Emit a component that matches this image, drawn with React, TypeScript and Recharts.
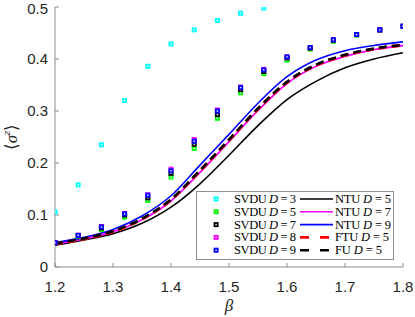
import React from "react";
import {
  ComposedChart,
  Line,
  Scatter,
  XAxis,
  YAxis,
} from "recharts";

// SVDU points, beta step 0.04
const betaSvdu = [1.2, 1.24, 1.28, 1.32, 1.36, 1.4, 1.44, 1.48, 1.52, 1.56, 1.6, 1.64, 1.68, 1.72, 1.76, 1.8];
const svduD3 = [0.106, 0.158, 0.235, 0.32, 0.386, 0.429, 0.456, 0.474, 0.488, 0.498];
const svduD5 = [0.047, 0.059, 0.072, 0.096, 0.128, 0.173, 0.228, 0.286, 0.335, 0.372, 0.398, 0.419, 0.434, 0.446, 0.455, 0.462];
const svduD7 = [0.047, 0.06, 0.075, 0.1, 0.133, 0.18, 0.236, 0.293, 0.341, 0.376, 0.402, 0.421, 0.436, 0.447, 0.456, 0.463];
const svduD8 = [0.047, 0.061, 0.078, 0.103, 0.139, 0.188, 0.245, 0.302, 0.346, 0.38, 0.404, 0.422, 0.437, 0.447, 0.456, 0.463];
const svduD9 = [0.047, 0.061, 0.077, 0.102, 0.138, 0.185, 0.242, 0.3, 0.345, 0.379, 0.404, 0.422, 0.437, 0.447, 0.456, 0.463];

// curves, beta step 0.05
const betaCurve = [1.2, 1.25, 1.3, 1.35, 1.4, 1.45, 1.5, 1.55, 1.6, 1.65, 1.7, 1.75, 1.8];
const ntuD5 = [0.042, 0.052, 0.064, 0.084, 0.115, 0.16, 0.215, 0.272, 0.322, 0.357, 0.383, 0.4, 0.412];
const ntuD7 = [0.044, 0.054, 0.068, 0.091, 0.127, 0.182, 0.241, 0.301, 0.353, 0.386, 0.405, 0.418, 0.426];
const ntuD9 = [0.047, 0.057, 0.072, 0.098, 0.137, 0.196, 0.255, 0.315, 0.366, 0.398, 0.416, 0.426, 0.433];
const ftuD5 = [0.044, 0.054, 0.068, 0.092, 0.129, 0.185, 0.244, 0.304, 0.355, 0.388, 0.407, 0.419, 0.427];
const fuD5 = [0.045, 0.055, 0.069, 0.093, 0.13, 0.186, 0.245, 0.305, 0.356, 0.389, 0.408, 0.42, 0.427];

const xTicks = [1.2, 1.3, 1.4, 1.5, 1.6, 1.7, 1.8];
const yTicks = [0, 0.1, 0.2, 0.3, 0.4, 0.5];

const toPoints = (xs: number[], ys: number[]) => ys.map((y, i) => ({ x: xs[i], y }));

const scatterSeries = [
  { name: "SVDU", d: 3, color: "#00ffff", values: svduD3, labelW: 62 },
  { name: "SVDU", d: 5, color: "#00ff00", values: svduD5, labelW: 62 },
  { name: "SVDU", d: 7, color: "#000000", values: svduD7, labelW: 62 },
  { name: "SVDU", d: 8, color: "#ff00ff", values: svduD8, labelW: 62 },
  { name: "SVDU", d: 9, color: "#0000ff", values: svduD9, labelW: 62 },
];

const lineSeries = [
  { name: "NTU", d: 5, color: "#000000", values: ntuD5, dash: undefined, width: 1.6, labelW: 56 },
  { name: "NTU", d: 7, color: "#ff00ff", values: ntuD7, dash: undefined, width: 1.8, labelW: 56 },
  { name: "NTU", d: 9, color: "#0000ff", values: ntuD9, dash: undefined, width: 1.6, labelW: 56 },
  { name: "FTU", d: 5, color: "#ff0000", values: ftuD5, dash: "8 5", width: 3, labelW: 54 },
  { name: "FU", d: 5, color: "#000000", values: fuD5, dash: "8 5", width: 2.6, labelW: 47 },
];

const tickStyle = { fontFamily: "'Liberation Sans', Arial, sans-serif", fontSize: 15, fill: "#262626" };
const serif = "'Liberation Serif', 'Times New Roman', serif";

function squareShape(color: string) {
  return (props: any) => (
    <rect
      x={props.cx - 1.6}
      y={props.cy - 1.6}
      width={3.2}
      height={3.2}
      fill="#ffffff"
      stroke={color}
      strokeWidth={1.8}
    />
  );
}

function LegendLabel({ x, y, name, d, w }: { x: number; y: number; name: string; d: number; w: number }) {
  return (
    <text
      x={x}
      y={y}
      fontFamily={serif}
      fontSize={12.5}
      fill="#000"
      dominantBaseline="central"
      textLength={w}
      lengthAdjust="spacing"
    >
      {name + " "}
      <tspan fontStyle="italic">D</tspan>
      {" = " + d}
    </text>
  );
}

function LegendBox() {
  const rowY = (i: number) => 8 + i * 12.8;
  return (
    <svg width={198} height={69} style={{ display: "block", position: "absolute", left: 196, top: 191 }}>
      <rect x={0.5} y={0.5} width={197} height={68} fill="#fff" stroke="#8c8c8c" strokeWidth={1} />
      {scatterSeries.map((s, i) => (
        <g key={"s" + i}>
          <rect x={18.5} y={rowY(i) - 1.6} width={3.2} height={3.2} fill="#fff" stroke={s.color} strokeWidth={1.8} />
          <LegendLabel x={38} y={rowY(i)} name={s.name} d={s.d} w={s.labelW} />
        </g>
      ))}
      {lineSeries.map((s, i) => (
        <g key={"l" + i}>
          <line
            x1={104}
            x2={137}
            y1={rowY(i)}
            y2={rowY(i)}
            stroke={s.color}
            strokeWidth={s.dash ? 2.6 : 1.6}
            strokeDasharray={s.dash ? "9 11" : undefined}
          />
          <LegendLabel x={139} y={rowY(i)} name={s.name} d={s.d} w={s.labelW} />
        </g>
      ))}
    </svg>
  );
}

export default function App() {
  return (
    <div style={{ position: "absolute", left: 0, top: 0, width: 415, height: 317, background: "#fff" }}>
      <ComposedChart width={415} height={317} margin={{ top: 7, right: 12, bottom: 0, left: 0 }}>
        <XAxis
          type="number"
          dataKey="x"
          domain={[1.2, 1.8]}
          ticks={xTicks}
          tickFormatter={(v: number) => v.toFixed(1)}
          height={50}
          stroke="#8c8c8c"
          tick={tickStyle}
          tickSize={-4}
          tickMargin={18}
          allowDataOverflow
          label={{
            content: () => (
              <text x={229} y={311} textAnchor="middle" fontFamily={serif} fontStyle="italic" fontSize={17} fill="#262626">
                β
              </text>
            ),
          }}
        />
        <YAxis
          type="number"
          dataKey="y"
          domain={[0, 0.5]}
          ticks={yTicks}
          tickFormatter={(v: number) => (v === 0 ? "0" : v.toFixed(1))}
          width={55}
          stroke="#8c8c8c"
          tick={tickStyle}
          tickSize={-4}
          tickMargin={11}
          allowDataOverflow
          label={{
            content: () => (
              <text
                x={17}
                y={137}
                transform="rotate(-90, 17, 137)"
                textAnchor="middle"
                fontFamily={serif}
                fontSize={17}
                fill="#262626"
              >
                ⟨<tspan fontStyle="italic">σ</tspan>
                <tspan dy={-7} fontSize={11} fontStyle="italic">z</tspan>
                <tspan dy={7}>⟩</tspan>
              </text>
            ),
          }}
        />
        {lineSeries.map((s, i) => (
          <Line
            key={"line" + i}
            data={toPoints(betaCurve, s.values)}
            dataKey="y"
            type="monotone"
            stroke={s.color}
            strokeWidth={s.width}
            strokeDasharray={s.dash}
            dot={false}
            activeDot={false}
            isAnimationActive={false}
          />
        ))}
        {scatterSeries.map((s, i) => (
          <Scatter
            key={"sc" + i}
            data={toPoints(betaSvdu, s.values)}
            dataKey="y"
            shape={squareShape(s.color)}
            isAnimationActive={false}
          />
        ))}
      </ComposedChart>
      <LegendBox />
    </div>
  );
}
